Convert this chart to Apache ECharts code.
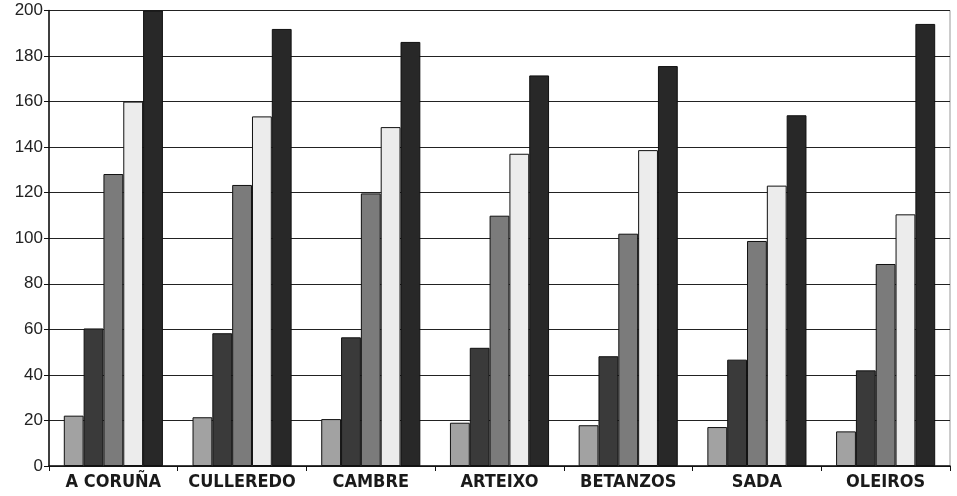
<!DOCTYPE html>
<html>
<head>
<meta charset="utf-8">
<script src="https://cdn.jsdelivr.net/npm/echarts@6/dist/echarts.min.js"></script>
<style>
html,body{margin:0;padding:0;background:#fff;}
#chart{width:957px;height:496px;}
</style>
</head>
<body>
<div id="chart"></div>
<script>
const categories = ['A CORUÑA', 'CULLEREDO', 'CAMBRE', 'ARTEIXO', 'BETANZOS', 'SADA', 'OLEIROS'];
const series1 = [22.1, 21.4, 20.6, 19.0, 17.9, 17.1, 15.2];
const series2 = [60.4, 58.3, 56.5, 51.9, 48.2, 46.7, 42.0];
const series3 = [128.2, 123.4, 119.7, 109.9, 102.0, 98.8, 88.7];
const series4 = [160.0, 153.5, 148.8, 137.1, 138.7, 123.1, 110.5];
const series5 = [200.0, 191.9, 186.2, 171.5, 175.6, 154.0, 194.1];
const yTicks = [0, 20, 40, 60, 80, 100, 120, 140, 160, 180, 200];

const colors = ['#a2a2a2', '#3a3a3a', '#7b7b7b', '#ececec', '#282828'];
const allSeries = [series1, series2, series3, series4, series5];

const chart = echarts.init(document.getElementById('chart'), null, {renderer: 'canvas'});
chart.setOption({
  animation: false,
  grid: {left: 49, right: 7, top: 10.5, bottom: 30, show: true, borderColor: '#999', borderWidth: 1, backgroundColor: 'transparent'},
  xAxis: {
    type: 'category',
    data: categories,
    axisLine: {lineStyle: {color: '#111', width: 1.5}},
    axisTick: {show: true, alignWithLabel: false, length: 5, lineStyle: {color: '#111'}},
    axisLabel: {
      color: '#1a1a1a',
      fontFamily: '"DejaVu Sans Condensed", "Liberation Sans Narrow", sans-serif',
      fontWeight: 'bold',
      fontSize: 18,
      margin: 7,
      interval: 0
    }
  },
  yAxis: {
    type: 'value',
    min: yTicks[0],
    max: yTicks[yTicks.length - 1],
    interval: 20,
    axisLine: {show: true, lineStyle: {color: '#111', width: 1.5}},
    axisTick: {show: true, length: 5, lineStyle: {color: '#111'}},
    axisLabel: {
      color: '#222',
      fontFamily: '"Liberation Sans", Arial, sans-serif',
      fontSize: 17,
      margin: 6
    },
    splitLine: {show: true, lineStyle: {color: '#222', width: 1.2}}
  },
  series: allSeries.map((d, i) => ({
    type: 'bar',
    data: d,
    barGap: '0%',
    barCategoryGap: '23%',
    itemStyle: {color: colors[i], borderColor: '#111', borderWidth: 1}
  }))
});
</script>
</body>
</html>
